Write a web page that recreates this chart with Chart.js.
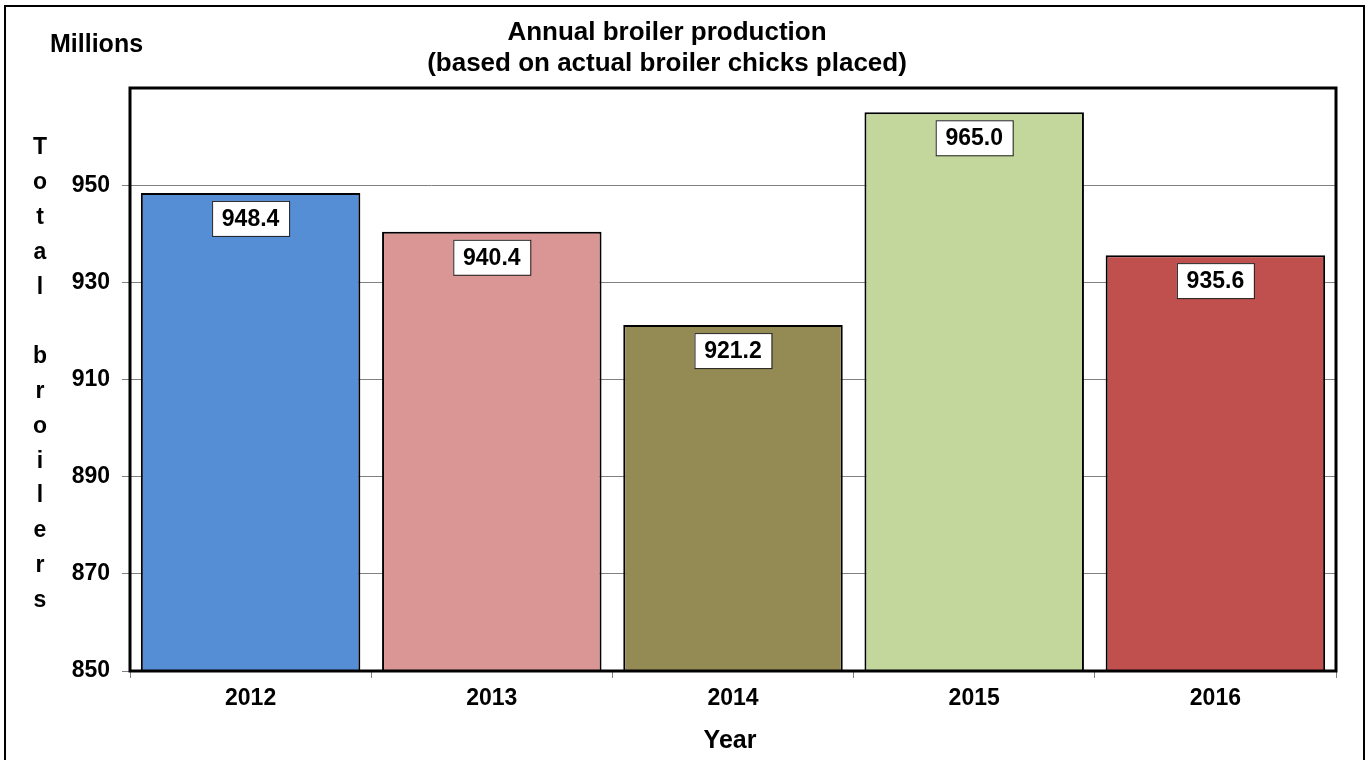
<!DOCTYPE html>
<html>
<head>
<meta charset="utf-8">
<script src="https://cdn.jsdelivr.net/npm/chart.js@4"></script>
<style>
  html, body { margin: 0; padding: 0; background: #fff; }
  #wrap { width: 1372px; height: 760px; }
</style>
</head>
<body>
<div id="wrap"><canvas id="chart" width="1372" height="760"></canvas></div>
<script>
const years = ['2012', '2013', '2014', '2015', '2016'];
const broilers = [948.4, 940.4, 921.2, 965.0, 935.6];
const barColors = ['#558ed5', '#d99694', '#948a54', '#c3d69b', '#c0504d'];
const titleLines = ['Annual broiler production', '(based on actual broiler chicks placed)'];
const yLetters = ['T', 'o', 't', 'a', 'l', '', 'b', 'r', 'o', 'i', 'l', 'e', 'r', 's'];

const font = 'Liberation Sans, Arial, sans-serif';

// frame, titles, stacked axis title and value boxes
const decorations = {
	id: 'decorations',
	beforeDraw: (chart) => {
		let ctx = chart.ctx;
		ctx.save();
		ctx.fillStyle = '#fff';
		ctx.fillRect(0, 0, chart.width, chart.height);
		ctx.restore();
	},
	afterDraw: (chart) => {
		let ctx = chart.ctx;
		let area = chart.chartArea;
		ctx.save();

		// outer frame
		ctx.strokeStyle = '#000';
		ctx.lineWidth = 2;
		ctx.strokeRect(5, 6, 1359, 770);

		// plot border
		ctx.lineWidth = 3;
		ctx.strokeRect(area.left, area.top, area.right - area.left, area.bottom - area.top);

		ctx.fillStyle = '#000';
		ctx.textAlign = 'center';
		ctx.textBaseline = 'middle';
		ctx.font = 'bold 26px ' + font;
		ctx.fillText(titleLines[0], 667, 33);
		ctx.fillText(titleLines[1], 667, 64);

		ctx.textAlign = 'left';
		ctx.font = 'bold 25px ' + font;
		ctx.fillText('Millions', 50, 45);

		ctx.textAlign = 'center';
		ctx.font = 'bold 23px ' + font;
		for (let i = 0; i < yLetters.length; i++) {
			ctx.fillText(yLetters[i], 40, 148 + i * 34.8);
		}

		ctx.font = 'bold 25px ' + font;
		ctx.fillText('Year', 730, 741);

		// value boxes near the top of each bar
		let meta = chart.getDatasetMeta(0);
		ctx.font = 'bold 23px ' + font;
		meta.data.forEach((bar, i) => {
			let w = 77, h = 35;
			let x = bar.x - w / 2;
			let y = bar.y + 8;
			ctx.fillStyle = '#fff';
			ctx.fillRect(x, y, w, h);
			ctx.lineWidth = 1;
			ctx.strokeStyle = '#222';
			ctx.strokeRect(x + 0.5, y + 0.5, w, h);
			ctx.fillStyle = '#000';
			ctx.fillText(broilers[i].toFixed(1), bar.x, y + h / 2 + 1);
		});
		ctx.restore();
	},
};

let ctx = document.getElementById('chart').getContext('2d');
let broilerChart = new Chart(ctx, {
	type: 'bar',
	data: {
		labels: years,
		datasets: [{
			data: broilers,
			backgroundColor: barColors,
			borderColor: '#000',
			borderWidth: 2,
			categoryPercentage: 1,
			barPercentage: 0.91,
		}],
	},
	options: {
		responsive: false,
		animation: false,
		layout: { padding: { left: 0, right: 36, top: 88, bottom: 0 } },
		plugins: {
			legend: { display: false },
			tooltip: { enabled: false },
			title: { display: false },
		},
		scales: {
			x: {
				offset: true,
				grid: { drawOnChartArea: false, offset: true, tickLength: 7, color: '#808080', tickColor: '#808080' },
				border: { display: false },
				ticks: { color: '#000', font: { family: font, size: 23, weight: 'bold' }, padding: 7 },
				afterFit: (scale) => { scale.height = 89; },
			},
			y: {
				min: 850,
				max: 970,
				grid: {
					color: '#808080',
					lineWidth: 1,
					tickLength: 8,
					tickColor: (c) => c.tick && c.tick.value >= 970 ? 'rgba(0,0,0,0)' : '#808080',
				},
				border: { display: false },
				ticks: {
					stepSize: 20,
					color: '#000',
					padding: 12,
					font: { family: font, size: 23, weight: 'bold' },
					callback: (v) => v >= 970 ? '' : v,
				},
				afterFit: (scale) => { scale.width = 130; },
			},
		},
	},
	plugins: [decorations],
});
</script>
</body>
</html>
